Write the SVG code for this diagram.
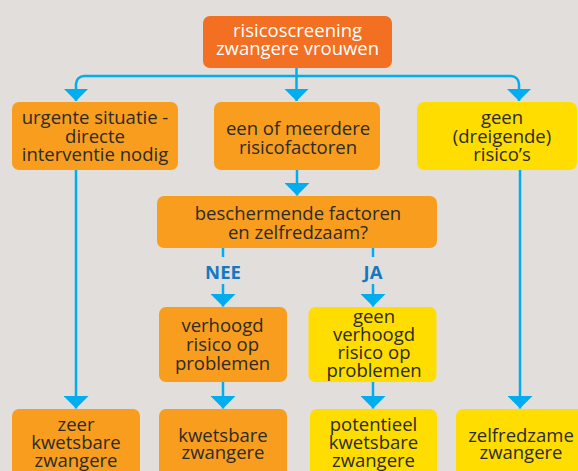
<svg xmlns="http://www.w3.org/2000/svg" width="578" height="471" viewBox="0 0 578 471">
  <style>
    .bg { fill: #E2DEDB; }
    .root { fill: #F36F21; }
    .or { fill: #F89D1E; }
    .ye { fill: #FFDD00; }
    .t { font-family: "Open Sans", "Noto Sans", sans-serif; font-size: 18.5px; fill: #2B2B2B; text-anchor: middle; }
    .tw { fill: #FFFFFF; }
    .lbl { font-family: "Open Sans", "Noto Sans", sans-serif; font-size: 18.5px; font-weight: bold; fill: #1479C0; text-anchor: middle; }
    .c { fill: none; stroke: #00AEEF; stroke-width: 2.5; }
    .ca { marker-end: url(#ah); }
  </style>
  <defs>
    <marker id="ah" viewBox="0 0 12.5 25" refX="12.5" refY="12.5" markerWidth="12.5" markerHeight="25" markerUnits="userSpaceOnUse" orient="auto">
      <path d="M0,0 L12.5,12.5 L0,25 Z" fill="#00AEEF"/>
    </marker>
  </defs>
  <rect class="bg" x="0" y="0" width="578" height="471"/>

  <g id="connectors">
    <path class="c ca" d="M296.5,68 V101"/>
    <path class="c ca" d="M296.5,76 H84 A8,8 0 0 0 76,84 V101"/>
    <path class="c ca" d="M296.5,76 H511 A8,8 0 0 1 519,84 V101"/>
    <path class="c ca" d="M297,170 V195.5"/>
    <path class="c" d="M223,248 V257"/>
    <path class="c ca" d="M223,284 V306.5"/>
    <path class="c" d="M373,248 V257"/>
    <path class="c ca" d="M373,284 V306.5"/>
    <path class="c ca" d="M76,170 V408.5"/>
    <path class="c ca" d="M520,170 V408.5"/>
    <path class="c ca" d="M223,382 V408.5"/>
    <path class="c ca" d="M373,382 V408.5"/>
    <text class="lbl" x="223" y="279">NEE</text>
    <text class="lbl" x="373" y="279">JA</text>
  </g>

  <g id="n-root">
    <rect class="root" x="203" y="16" width="189" height="52" rx="7"/>
    <text class="t tw" x="297.5" y="37">risicoscreening</text>
    <text class="t tw" x="297.5" y="55">zwangere vrouwen</text>
  </g>
  <g id="n-urgent">
    <rect class="or" x="12" y="102" width="166" height="68" rx="7"/>
    <text class="t" x="95" y="124">urgente situatie -</text>
    <text class="t" x="95" y="142.5">directe</text>
    <text class="t" x="95" y="161">interventie nodig</text>
  </g>
  <g id="n-risicofactoren">
    <rect class="or" x="214" y="102" width="166" height="68" rx="7"/>
    <text class="t" x="298" y="134.5">een of meerdere</text>
    <text class="t" x="298" y="153.5">risicofactoren</text>
  </g>
  <g id="n-geenrisico">
    <rect class="ye" x="417" y="102" width="160" height="68" rx="7"/>
    <text class="t" x="502" y="124">geen</text>
    <text class="t" x="502" y="142.5">(dreigende)</text>
    <text class="t" x="502" y="161">risico’s</text>
  </g>
  <g id="n-beschermend">
    <rect class="or" x="157" y="196" width="280" height="52" rx="7"/>
    <text class="t" x="298" y="219.5">beschermende factoren</text>
    <text class="t" x="298" y="238.5">en zelfredzaam?</text>
  </g>
  <g id="n-verhoogd">
    <rect class="or" x="159" y="307" width="128" height="75" rx="7"/>
    <text class="t" x="222.5" y="331.5">verhoogd</text>
    <text class="t" x="222.5" y="350.5">risico op</text>
    <text class="t" x="222.5" y="369.5">problemen</text>
  </g>
  <g id="n-geenverhoogd">
    <rect class="ye" x="308.5" y="307" width="128" height="75" rx="7"/>
    <text class="t" x="374" y="322.5">geen</text>
    <text class="t" x="374" y="340.5">verhoogd</text>
    <text class="t" x="374" y="358.5">risico op</text>
    <text class="t" x="374" y="376.5">problemen</text>
  </g>
  <g id="n-zeerkwetsbaar">
    <rect class="or" x="12" y="409" width="128" height="72" rx="7"/>
    <text class="t" x="76" y="431">zeer</text>
    <text class="t" x="76" y="449">kwetsbare</text>
    <text class="t" x="76" y="467">zwangere</text>
  </g>
  <g id="n-kwetsbaar">
    <rect class="or" x="159" y="409" width="128" height="72" rx="7"/>
    <text class="t" x="223" y="441.5">kwetsbare</text>
    <text class="t" x="223" y="459">zwangere</text>
  </g>
  <g id="n-potentieel">
    <rect class="ye" x="310" y="409" width="127" height="72" rx="7"/>
    <text class="t" x="373.5" y="430.5">potentieel</text>
    <text class="t" x="373.5" y="449">kwetsbare</text>
    <text class="t" x="373.5" y="467">zwangere</text>
  </g>
  <g id="n-zelfredzaam">
    <rect class="ye" x="456" y="409" width="130" height="72" rx="7"/>
    <text class="t" x="521" y="441.5">zelfredzame</text>
    <text class="t" x="521" y="459">zwangere</text>
  </g>
</svg>
